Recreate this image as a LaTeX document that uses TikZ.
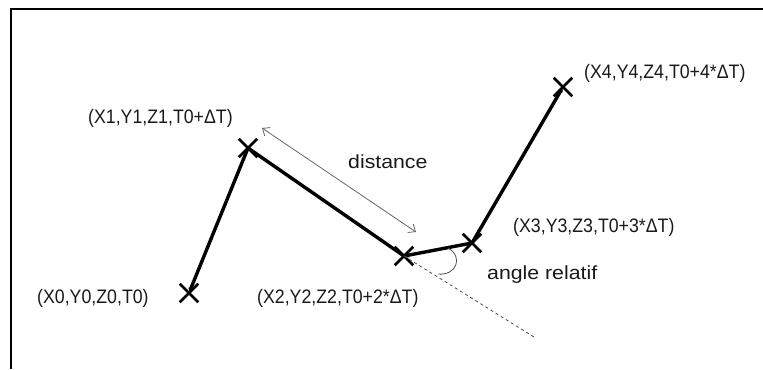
\documentclass[tikz,border=0pt]{standalone}
\usepackage{fontspec}
\setmainfont{Liberation Sans}
\newfontfamily\labelfont[FakeStretch=0.91]{Liberation Sans}
\newfontfamily\wordfont[FakeStretch=1.12]{Liberation Sans}
\usetikzlibrary{arrows.meta,shapes.misc}
\begin{document}
\begin{tikzpicture}[x=1bp,y=-1bp,
  pt/.style={cross out,draw,minimum size=16bp,inner sep=0pt,line width=2.6bp},
  seg/.style={line width=3.4bp},
  tipped/.style={seg,-{Latex[length=5bp,width=5.5bp]}},
  lbl/.style={anchor=west,inner sep=0pt,font=\labelfont\fontsize{19.5bp}{21bp}\selectfont,text=black!90},
  word/.style={anchor=west,inner sep=0pt,font=\wordfont\fontsize{19bp}{21bp}\selectfont,text=black!90},
  thin/.style={line width=0.8bp,draw=black!70}]
\useasboundingbox (0,0) rectangle (763,369);
\draw[line width=2bp] (11,369) -- (11,9) -- (763,9);
\node[pt] (p0) at (189,293) {};
\node[pt] (p1) at (248,148) {};
\node[pt] (p2) at (404,256) {};
\node[pt] (p3) at (472,243) {};
\node[pt] (p4) at (563,87) {};
\draw[tipped] (p1.center) -- (p0.center);
\draw[seg] (p1.center) -- (p2.center);
\draw[tipped] (p3.center) -- (p2.center);
\draw[tipped] (p3.center) -- (p4.center);
\coordinate (d1) at (262,128);
\coordinate (d2) at (416,232);
\draw[thin,draw=black!60,{Straight Barb[length=6bp,width=10bp]}-{Straight Barb[length=6bp,width=10bp]}] (d1) -- (d2);
\coordinate (dend) at (534,337);
\draw[thin,dash pattern=on 3bp off 3bp] (p2.center) -- (dend);
\coordinate (a1) at (448,248);
\coordinate (a2) at (438,274);
\draw[thin] (a1) .. controls (464,257) and (456,276) .. (a2);
\node[lbl] (l1) at (88,118) {(X1,Y1,Z1,T0+ΔT)};
\node[word] (ld) at (348,162) {distance};
\node[lbl] (l4) at (584,73) {(X4,Y4,Z4,T0+4*ΔT)};
\node[lbl] (l3) at (513,227) {(X3,Y3,Z3,T0+3*ΔT)};
\node[word] (la) at (487,275) {angle relatif};
\node[lbl] (l0) at (37,298) {(X0,Y0,Z0,T0)};
\node[lbl] (l2) at (257,298) {(X2,Y2,Z2,T0+2*ΔT)};
\end{tikzpicture}
\end{document}
